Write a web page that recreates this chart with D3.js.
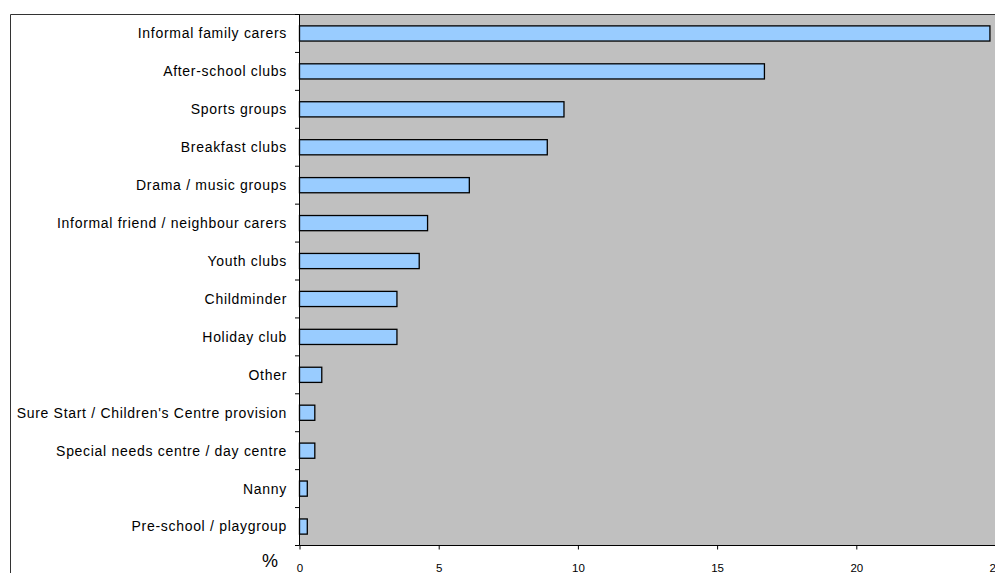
<!DOCTYPE html>
<html><head><meta charset="utf-8">
<script src="https://cdn.jsdelivr.net/npm/d3@7"></script>
<style>body{margin:0;background:#fff}svg{display:block}</style>
</head><body>
<svg id="c" width="995" height="573"></svg>
<script>
const categories = ["Informal family carers","After-school clubs","Sports groups","Breakfast clubs","Drama / music groups","Informal friend / neighbour carers","Youth clubs","Childminder","Holiday club","Other","Sure Start / Children's Centre provision","Special needs centre / day centre","Nanny","Pre-school / playgroup"];
const values = [24.8,16.7,9.5,8.9,6.1,4.6,4.3,3.5,3.5,0.8,0.55,0.55,0.28,0.28];
const xTicks = [0,5,10,15,20,25];

const svg = d3.select("#c");
const L = 299.5, R = 995.5, T = 14.5, B = 545.5;
const FONT = "Liberation Sans, Arial, sans-serif";
const x = d3.scaleLinear().domain([0,25]).range([L,R]);
const y = d3.scaleBand().domain(categories).range([T,B]).paddingInner(0.6).paddingOuter(0.3);

svg.append("rect").attr("x",L).attr("y",T).attr("width",R-L).attr("height",B-T).attr("fill","#C0C0C0");

svg.append("line").attr("x1",10.5).attr("x2",995).attr("y1",T).attr("y2",T).attr("stroke","#333");
svg.append("line").attr("x1",10.5).attr("x2",10.5).attr("y1",T).attr("y2",573).attr("stroke","#333");

svg.selectAll("rect.bar").data(categories).enter().append("rect").attr("class","bar")
  .attr("x",x(0)).attr("y",d=>y(d)).attr("height",y.bandwidth())
  .attr("width",(d,i)=>x(values[i])-x(0))
  .attr("fill","#99CCFF").attr("stroke","#000").attr("stroke-width",1.3);

svg.append("line").attr("x1",L).attr("x2",L).attr("y1",T).attr("y2",B).attr("stroke","#000");
const bounds = d3.range(categories.length+1).map(i=>T+i*(B-T)/categories.length);
svg.selectAll("line.yt").data(bounds).enter().append("line").attr("class","yt")
  .attr("x1",L-4.5).attr("x2",L).attr("y1",d=>d).attr("y2",d=>d).attr("stroke","#000");
svg.selectAll("text.yl").data(categories).enter().append("text").attr("class","yl")
  .attr("x",287).attr("y",d=>y(d)+y.bandwidth()/2).attr("dy","0.35em")
  .attr("text-anchor","end").attr("font-family",FONT).attr("letter-spacing",0.7)
  .attr("font-size",14).attr("fill","#000").text(d=>d);

const xa = d3.axisBottom(x).tickValues(xTicks).tickSize(4).tickPadding(14).tickFormat(d3.format("d"));
const g = svg.append("g").attr("transform",`translate(0,${B})`).call(xa);
g.select(".domain").attr("stroke","#000").attr("d",`M${L},0H${R}`);
g.selectAll(".tick line").attr("stroke","#000");
g.selectAll(".tick text").attr("font-family",FONT).attr("font-size",11.5).attr("fill","#000");

svg.append("text").attr("x",270).attr("y",567).attr("text-anchor","middle")
  .attr("font-family",FONT).attr("font-size",18).text("%");
</script>
</body></html>
